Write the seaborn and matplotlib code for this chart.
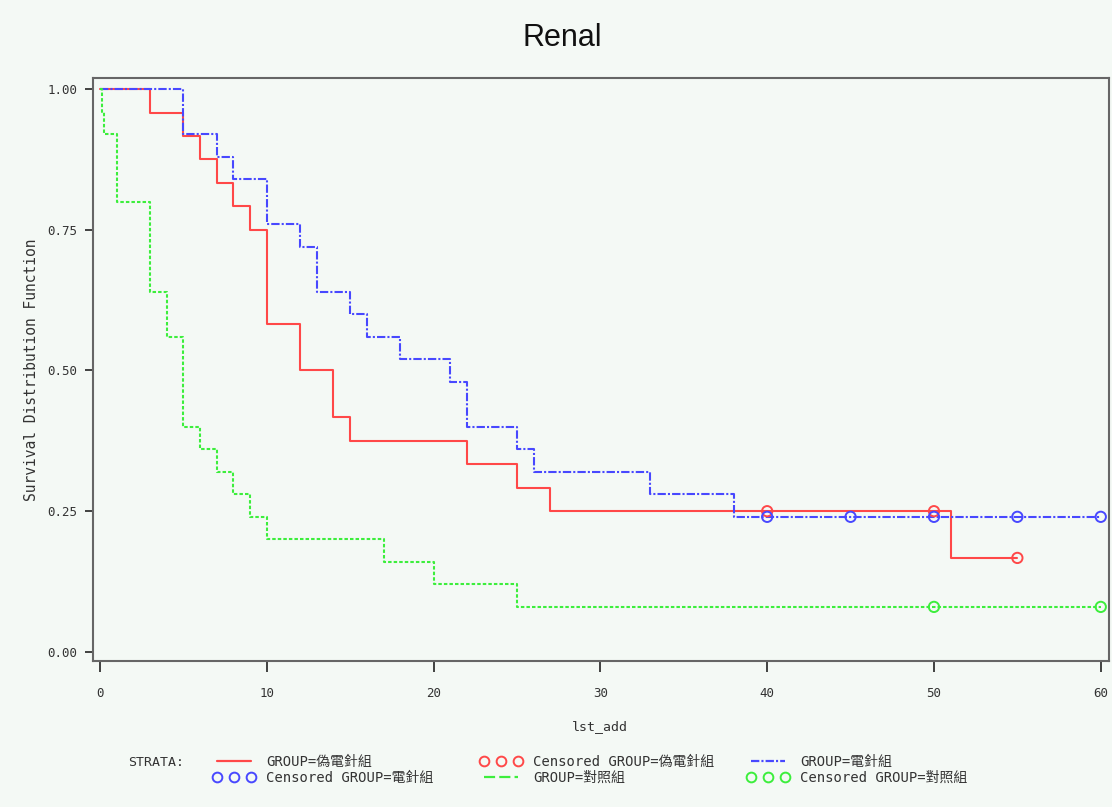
import numpy as np
import pandas as pd
import seaborn as sns
import matplotlib.pyplot as plt
from matplotlib.lines import Line2D

# Kaplan-Meier steps (time, survival)
sham_t = [0, 3, 5, 6, 7, 8, 9, 10, 12, 14, 15, 22, 25, 27, 51, 55]
sham_s = [1.0, 0.958, 0.917, 0.875, 0.833, 0.792, 0.75, 0.583, 0.5, 0.417, 0.375, 0.333, 0.292, 0.25, 0.167, 0.167]
sham_cens_t = [40, 50, 55]
sham_cens_s = [0.25, 0.25, 0.167]

ea_t = [0, 5, 7, 8, 10, 12, 13, 15, 16, 18, 21, 22, 25, 26, 33, 38, 60]
ea_s = [1.0, 0.92, 0.88, 0.84, 0.76, 0.72, 0.64, 0.60, 0.56, 0.52, 0.48, 0.40, 0.36, 0.32, 0.28, 0.24, 0.24]
ea_cens_t = [40, 45, 50, 55, 60]
ea_cens_s = [0.24, 0.24, 0.24, 0.24, 0.24]

ctrl_t = [0, 0.1, 0.25, 1, 3, 4, 5, 6, 7, 8, 9, 10, 17, 20, 25, 60]
ctrl_s = [1.0, 0.96, 0.92, 0.80, 0.64, 0.56, 0.40, 0.36, 0.32, 0.28, 0.24, 0.20, 0.16, 0.12, 0.08, 0.08]
ctrl_cens_t = [50, 60]
ctrl_cens_s = [0.08, 0.08]

groups = ['GROUP=偽電針組', 'GROUP=電針組', 'GROUP=對照組']
xticks = [0, 10, 20, 30, 40, 50, 60]
yticks = [0.0, 0.25, 0.5, 0.75, 1.0]

bg = '#f4f9f5'
red, blue, green = '#ff4848', '#4848ff', '#3cee3c'
mono = ['DejaVu Sans Mono', 'Noto Sans CJK TC']

sns.set_style('ticks')
plt.rcParams['font.family'] = mono
plt.rcParams['lines.scale_dashes'] = False

fig = plt.figure(figsize=(11.12, 8.07), dpi=100, facecolor=bg)
ax = fig.add_axes([0.0836, 0.181, 0.9135, 0.7223])
ax.set_facecolor(bg)

ls_red = '-'
ls_blue = (0, (6, 1.5, 1.5, 1.5))
ls_green = (0, (2.5, 1.5))

sns.lineplot(x=sham_t, y=sham_s, estimator=None, drawstyle='steps-post', color=red, lw=1.5, linestyle=ls_red, ax=ax)
sns.lineplot(x=ea_t, y=ea_s, estimator=None, drawstyle='steps-post', color=blue, lw=1.5, linestyle=ls_blue, ax=ax)
sns.lineplot(x=ctrl_t, y=ctrl_s, estimator=None, drawstyle='steps-post', color=green, lw=1.5, linestyle=ls_green, ax=ax)

for tt, ss, c in [(sham_cens_t, sham_cens_s, red), (ea_cens_t, ea_cens_s, blue), (ctrl_cens_t, ctrl_cens_s, green)]:
    sns.scatterplot(x=tt, y=ss, marker='o', s=55, color=c, facecolors='none', edgecolor=c, linewidth=1.4, ax=ax, zorder=5)

ax.set_xlim(-0.42, 60.48)
ax.set_ylim(-0.016, 1.0195)
ax.set_xticks(xticks)
ax.set_yticks(yticks)
ax.set_yticklabels(['%.2f' % v for v in yticks])
ax.tick_params(axis='x', direction='out', length=8, width=1.3, pad=11, labelsize=9, colors='#333333')
ax.tick_params(axis='y', direction='out', length=6, width=1.3, pad=5, labelsize=9, colors='#333333')
for sp in ax.spines.values():
    sp.set_color('#666666')
    sp.set_linewidth(1.5)
ax.set_xlabel('')
ax.set_ylabel('')

fig.text(0.506, 0.953, 'Renal', ha='center', va='center', fontsize=22, family='Liberation Sans', color='#111111')
fig.text(32 / 1112, 0.5415, 'Survival Distribution Function', rotation=90, ha='center', va='center', fontsize=10.5, color='#333333')
fig.text(600 / 1112, 1 - 727 / 807, 'lst_add', ha='center', va='center', fontsize=9.5, color='#333333')

# legend: "STRATA:" + three columns of two rows
fig.text(128 / 1112, 1 - 762 / 807, 'STRATA:', ha='left', va='center', fontsize=9.5, color='#333333')

h_red = Line2D([], [], color=red, lw=1.6, linestyle=ls_red)
h_blue = Line2D([], [], color=blue, lw=1.6, linestyle=ls_blue)
h_green = Line2D([], [], color=green, lw=1.6, linestyle=(0, (8, 3)))


def circ(c):
    return Line2D([], [], color=c, marker='o', linestyle='none', mfc='none', mew=1.4, ms=7)


cols = [
    (213, [h_red, circ(blue)], [groups[0], 'Censored ' + groups[1]]),
    (480, [circ(red), h_green], ['Censored ' + groups[0], groups[2]]),
    (747, [h_blue, circ(green)], [groups[1], 'Censored ' + groups[2]]),
]
for x0, hs, labs in cols:
    fig.legend(handles=hs, labels=labs, loc='center left', bbox_to_anchor=(x0 / 1112, 1 - 770 / 807),
               frameon=False, borderaxespad=0, borderpad=0, numpoints=3, handlelength=3.0,
               handletextpad=0.8, labelspacing=0.15, prop={'family': mono, 'size': 10},
               labelcolor='#333333')

fig.savefig('out.png', dpi=100, facecolor=bg)
